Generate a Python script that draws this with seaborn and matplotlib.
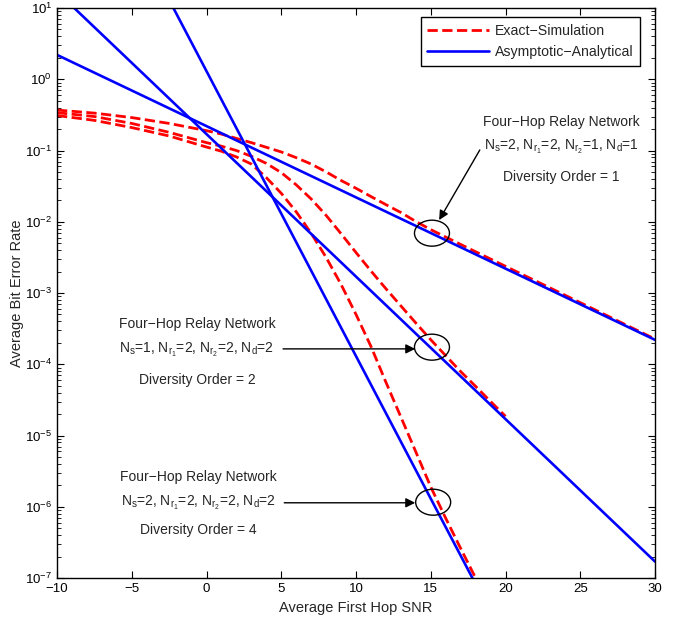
import numpy as np
import pandas as pd
import matplotlib
matplotlib.use('Agg')
import matplotlib.pyplot as plt
import seaborn as sns
from matplotlib.patches import Ellipse

# --- datos ---
snr_d1 = [-10, -7.5, -5, -2.5, 0, 1, 2, 3, 4, 5, 6, 7, 8, 9, 10, 11, 12, 13, 14, 15,
          16, 17.5, 20, 22.5, 25, 27.5, 30]
ber_sim_d1 = [0.37, 0.335, 0.29, 0.24, 0.19, 0.17, 0.148, 0.129, 0.111, 0.0955, 0.0794,
              0.0646, 0.0501, 0.038, 0.0295, 0.0226, 0.0174, 0.0135, 0.0101, 7.76e-3,
              6.1e-3, 4.27e-3, 2.37e-3, 1.32e-3, 7.33e-4, 4.07e-4, 2.26e-4]

snr_d2 = [-10, -7.5, -5, -2.5, 0, 1, 2, 3, 4, 5, 6, 7, 8, 9, 10, 11, 12, 13, 14, 15,
          16, 17, 18, 19, 20]
ber_sim_d2 = [0.34, 0.30, 0.24, 0.18, 0.129, 0.115, 0.1, 0.083, 0.066, 0.049, 0.033,
              0.0209, 0.0123, 6.8e-3, 3.7e-3, 2.04e-3, 1.15e-3, 6.6e-4, 3.8e-4, 2.21e-4,
              1.32e-4, 7.9e-5, 4.9e-5, 3.0e-5, 1.86e-5]

snr_d4 = [-10, -7.5, -5, -2.5, 0, 1, 2, 3, 4, 5, 6, 7, 8, 9, 10, 11, 12, 13, 14, 15,
          16, 17, 18]
ber_sim_d4 = [0.31, 0.265, 0.21, 0.16, 0.112, 0.0977, 0.0813, 0.0646, 0.0417, 0.0251,
              0.0138, 6.9e-3, 3.16e-3, 1.32e-3, 5.0e-4, 1.78e-4, 5.6e-5, 1.82e-5, 5.9e-6,
              1.9e-6, 6.9e-7, 2.6e-7, 1.0e-7]

snr_asym = [-10, 30]
ber_asym_d1 = [2.2, 2.2e-4]
ber_asym_d2 = [17.0, 1.7e-7]
ber_asym_d4 = [1.3e4, 1.3e-12]

# --- estilo ---
sns.set_theme(style="ticks")
plt.rcParams['font.family'] = ['Liberation Sans', 'DejaVu Sans']
plt.rcParams['mathtext.fontset'] = 'custom'
plt.rcParams['mathtext.rm'] = 'Liberation Sans'
plt.rcParams['mathtext.it'] = 'Liberation Sans:italic'
plt.rcParams['mathtext.bf'] = 'Liberation Sans:bold'
plt.rcParams['xtick.direction'] = 'in'
plt.rcParams['ytick.direction'] = 'in'
plt.rcParams['axes.edgecolor'] = 'black'
plt.rcParams['axes.linewidth'] = 1.0

fig = plt.figure(figsize=(6.73, 6.22), dpi=100)
ax = fig.add_axes([0.0847, 0.0707, 0.8886, 0.9164])

red_kw = dict(color='red', linestyle='--', linewidth=2.0, dashes=(3, 1.6))
blue_kw = dict(color='#0000ff', linestyle='-', linewidth=1.9)

sns.lineplot(x=snr_d1, y=ber_sim_d1, ax=ax, label='Exact\u2212Simulation', **red_kw)
sns.lineplot(x=snr_d2, y=ber_sim_d2, ax=ax, **red_kw)
sns.lineplot(x=snr_d4, y=ber_sim_d4, ax=ax, **red_kw)
sns.lineplot(x=snr_asym, y=ber_asym_d1, ax=ax, label='Asymptotic\u2212Analytical', **blue_kw)
sns.lineplot(x=snr_asym, y=ber_asym_d2, ax=ax, **blue_kw)
sns.lineplot(x=snr_asym, y=ber_asym_d4, ax=ax, **blue_kw)

ax.set_yscale('log')
ax.set_xlim(-10, 30)
ax.set_ylim(1e-7, 10)
ax.set_xticks(np.arange(-10, 31, 5))
ax.set_xticklabels(['\u221210', '\u22125', '0', '5', '10', '15', '20', '25', '30'])
ax.tick_params(which='both', top=True, right=True, labelsize=9.5, colors='black')
ax.tick_params(which='major', length=5, width=0.8)
ax.tick_params(which='minor', length=3, width=0.6)
ax.set_xlabel('Average First Hop SNR', fontsize=10.5)
ax.set_ylabel('Average Bit Error Rate', fontsize=10.5)
ax.xaxis.set_label_coords(0.5, -0.040)
ax.yaxis.set_label_coords(-0.055, 0.5)
ax.grid(False)

leg = ax.legend(loc='upper right', bbox_to_anchor=(0.975, 0.984), borderaxespad=0,
                fontsize=10.2, frameon=True, fancybox=False, framealpha=1,
                edgecolor='black', handlelength=4.4, borderpad=0.45,
                labelspacing=0.55, handletextpad=0.4)
leg.get_frame().set_linewidth(1.0)

# --- anotaciones ---
lbl1 = r'N$_\mathrm{s}$=2, N$_{\mathrm{r}_1}$=2, N$_{\mathrm{r}_2}$=1, N$_\mathrm{d}$=1'
lbl2 = r'N$_\mathrm{s}$=1, N$_{\mathrm{r}_1}$=2, N$_{\mathrm{r}_2}$=2, N$_\mathrm{d}$=2'
lbl4 = r'N$_\mathrm{s}$=2, N$_{\mathrm{r}_1}$=2, N$_{\mathrm{r}_2}$=2, N$_\mathrm{d}$=2'

bloques = [
    (0.844, [0.800, 0.756, 0.704], lbl1, 'Diversity Order = 1'),
    (0.234, [0.446, 0.400, 0.347], lbl2, 'Diversity Order = 2'),
    (0.236, [0.177, 0.132, 0.084], lbl4, 'Diversity Order = 4'),
]
for xc, ys, lbl, div in bloques:
    ax.text(xc, ys[0], 'Four\u2212Hop Relay Network', transform=ax.transAxes,
            ha='center', va='center', fontsize=10)
    ax.text(xc, ys[1], lbl, transform=ax.transAxes, ha='center', va='center', fontsize=10)
    ax.text(xc, ys[2], div, transform=ax.transAxes, ha='center', va='center', fontsize=10)

flechas = [((0.707, 0.751), (0.639, 0.628)),
           ((0.378, 0.402), (0.599, 0.402)),
           ((0.380, 0.132), (0.599, 0.132))]
for xy_txt, xy_pt in flechas:
    ax.annotate('', xy=xy_pt, xytext=xy_txt, xycoords='axes fraction',
                textcoords='axes fraction',
                arrowprops=dict(arrowstyle='-|>', color='black', lw=1.0,
                                mutation_scale=14, shrinkA=0, shrinkB=0))

for cx, cy in [(0.627, 0.605), (0.627, 0.405), (0.629, 0.133)]:
    ax.add_patch(Ellipse((cx, cy), 0.0585, 0.0456, transform=ax.transAxes,
                         fill=False, edgecolor='black', linewidth=1.0, zorder=5))

fig.savefig('out.png', dpi=100)
